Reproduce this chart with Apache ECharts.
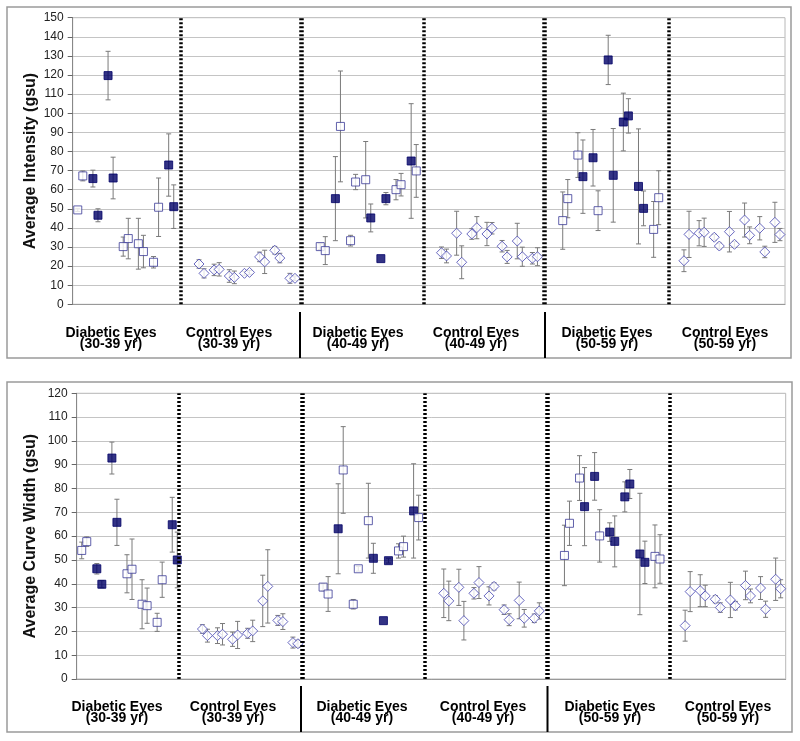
<!DOCTYPE html>
<html>
<head>
<meta charset="utf-8">
<script src="https://cdn.jsdelivr.net/npm/echarts@6/dist/echarts.min.js"></script>
<style>
html, body { margin: 0; padding: 0; background: #fff; }
#chart { width: 800px; height: 741px; }
</style>
</head>
<body>
<div id="chart"></div>
<script>
// group labels and where each group starts on the x scale (pairs of eyes, gap of one)
var groupNames = ['Diabetic Eyes\n(30-39 yr)', 'Control Eyes\n(30-39 yr)', 'Diabetic Eyes\n(40-49 yr)',
  'Control Eyes\n(40-49 yr)', 'Diabetic Eyes\n(50-59 yr)', 'Control Eyes\n(50-59 yr)'];
var groupStart = [1, 25, 49, 73, 97, 121];

// 1 = filled square, 0 = open square (diabetic groups)
var filledD30 = [0, 0, 1, 1, 1, 1, 0, 0, 0, 0, 0, 0, 1, 1];
var filledD40 = [0, 0, 1, 0, 0, 0, 0, 1, 1, 1, 0, 0, 1, 0];
var filledD50 = [0, 0, 0, 1, 1, 0, 1, 1, 1, 1, 1, 1, 0, 0];

// Average Intensity (gsu)
var intD30 = [49.4, 67.2, 65.8, 46.6, 119.7, 66.1, 30.2, 34.4, 31.7, 27.6, 22.0, 50.8, 72.9, 51.1];
var intD30Err = [0.8, 2.6, 4.4, 3.4, 12.7, 10.9, 5.0, 10.6, 13.3, 8.5, 3.0, 15.3, 16.3, 11.4];
var intC30 = [21.1, 16.2, 18.0, 18.3, 14.8, 14.1, 16.2, 16.7, 24.8, 22.2, 28.3, 24.2, 13.6, 13.6];
var intC30Err = [2.2, 2.4, 3.0, 3.5, 3.3, 3.3, 1.0, 1.0, 2.5, 6.1, 2.0, 2.5, 2.6, 1.2];
var intD40 = [30.2, 28.1, 55.3, 93.1, 33.3, 64.0, 65.2, 45.2, 23.9, 55.3, 60.0, 62.6, 75.0, 69.8];
var intD40Err = [1.5, 7.3, 22.0, 29.0, 2.8, 4.0, 20.0, 7.3, 0, 3.2, 5.3, 5.9, 30.0, 13.8];
var intC40 = [27.0, 25.3, 37.2, 22.0, 36.8, 40.1, 36.8, 39.8, 30.4, 24.8, 33.1, 24.9, 24.1, 24.9];
var intC40Err = [3.0, 3.6, 11.5, 8.6, 2.8, 5.8, 6.1, 3.0, 3.0, 3.4, 9.3, 5.0, 3.0, 4.7];
var intD50 = [43.8, 55.3, 78.1, 66.8, 76.7, 49.0, 127.9, 67.5, 95.4, 98.6, 61.7, 50.2, 39.2, 55.8];
var intD50Err = [15.0, 10.0, 11.7, 19.2, 14.8, 10.4, 12.9, 24.5, 15.1, 9.0, 30.1, 9.1, 14.6, 14.1];
var intC50 = [22.8, 36.6, 37.2, 37.7, 35.1, 30.5, 38.0, 31.4, 44.1, 36.1, 39.8, 27.4, 42.9, 36.5];
var intC50Err = [5.7, 12.1, 6.6, 7.4, 1.5, 1.5, 10.6, 1.5, 8.9, 4.4, 6.1, 3.0, 10.5, 3.2];

// Average Curve Width (gsu)
var widD30 = [54.0, 57.7, 46.3, 39.8, 92.8, 65.8, 44.2, 46.1, 31.4, 30.8, 23.8, 41.7, 64.8, 50.0];
var widD30Err = [3.5, 2.0, 2.2, 1.5, 6.7, 9.7, 8.0, 12.7, 10.3, 7.4, 3.8, 7.4, 11.5, 11.7];
var widC30 = [21.0, 18.2, 18.2, 18.8, 16.7, 18.5, 19.2, 20.2, 32.8, 38.9, 24.6, 24.1, 15.3, 14.8];
var widC30Err = [1.8, 2.7, 3.3, 4.5, 3.0, 5.7, 2.1, 4.5, 10.8, 15.4, 2.1, 3.3, 2.3, 1.5];
var widD40 = [38.6, 35.7, 63.1, 87.8, 31.4, 46.3, 66.5, 50.7, 24.5, 49.7, 53.8, 55.6, 70.6, 67.8];
var widD40Err = [1.5, 7.3, 18.9, 18.2, 2.0, 1.0, 15.7, 6.3, 0, 1.0, 3.0, 4.4, 19.8, 9.4];
var widC40 = [36.0, 32.8, 38.5, 24.5, 36.0, 40.5, 34.9, 38.9, 29.1, 24.9, 33.0, 25.5, 25.5, 28.6];
var widC40Err = [10.2, 8.3, 7.6, 8.1, 2.4, 6.7, 3.8, 1.5, 2.0, 2.5, 7.7, 3.7, 1.8, 3.4];
var widD50 = [51.9, 65.4, 84.4, 72.4, 85.1, 60.1, 61.7, 57.8, 76.5, 81.9, 52.5, 49.0, 51.5, 50.4];
var widD50Err = [12.7, 9.3, 9.4, 16.4, 10.0, 11.0, 3.9, 10.7, 6.3, 6.1, 25.5, 8.9, 13.2, 10.2];
var widC50 = [22.4, 36.7, 37.1, 34.9, 33.5, 30.0, 33.2, 30.8, 39.3, 34.9, 38.2, 29.3, 41.9, 37.9];
var widC50Err = [6.5, 8.4, 6.7, 4.5, 1.5, 2.0, 7.4, 1.8, 6.0, 2.9, 4.8, 3.4, 8.9, 3.8];

// dotted separators (x position), thick = age boundary
var sepIntensity = [21.3, 45.3, 69.5, 93.3, 118.0];
var sepWidth = [20.3, 44.9, 69.3, 93.5, 117.9];

var intGroups = [[intD30, intD30Err, filledD30], [intC30, intC30Err, null], [intD40, intD40Err, filledD40],
  [intC40, intC40Err, null], [intD50, intD50Err, filledD50], [intC50, intC50Err, null]];
var widGroups = [[widD30, widD30Err, filledD30], [widC30, widC30Err, null], [widD40, widD40Err, filledD40],
  [widC40, widC40Err, null], [widD50, widD50Err, filledD50], [widC50, widC50Err, null]];

function buildPanel(groups) {
  var res = { filled: [], open: [], diamond: [], all: [] };
  groups.forEach(function (g, gi) {
    g[0].forEach(function (v, i) {
      var x = groupStart[gi] + Math.floor(i / 2) * 3 + (i % 2);
      var p = [x, v, g[1][i]];
      res.all.push(p);
      if (!g[2]) res.diamond.push(p);
      else if (g[2][i]) res.filled.push(p);
      else res.open.push(p);
    });
  });
  return res;
}

var pInt = buildPanel(intGroups);
var pWid = buildPanel(widGroups);

function errorBars(data, gi) {
  return {
    type: 'custom',
    xAxisIndex: gi,
    yAxisIndex: gi,
    z: 2,
    silent: true,
    data: data,
    renderItem: function (params, api) {
      var e = api.value(2);
      if (!e) return null;
      var x = api.value(0), y = api.value(1);
      var hi = api.coord([x, y + e]);
      var lo = api.coord([x, y - e]);
      var w = 2.5;
      var st = { stroke: '#7a7a7a', lineWidth: 1 };
      return {
        type: 'group',
        children: [
          { type: 'line', shape: { x1: hi[0], y1: hi[1], x2: lo[0], y2: lo[1] }, style: st },
          { type: 'line', shape: { x1: hi[0] - w, y1: hi[1], x2: hi[0] + w, y2: hi[1] }, style: st },
          { type: 'line', shape: { x1: lo[0] - w, y1: lo[1], x2: lo[0] + w, y2: lo[1] }, style: st }
        ]
      };
    }
  };
}

function separators(list) {
  return {
    silent: true,
    symbol: 'none',
    label: { show: false },
    data: list.map(function (v, i) {
      var thick = (i === 1 || i === 3);
      return {
        xAxis: v,
        lineStyle: { color: '#000', type: [2, 2], width: thick ? 4.5 : 3.5 }
      };
    })
  };
}

function markers(p, gi, seps) {
  return [
    errorBars(p.all, gi),
    {
      type: 'scatter', xAxisIndex: gi, yAxisIndex: gi, z: 3,
      symbol: 'rect', symbolSize: 8,
      itemStyle: { color: '#000066', borderColor: '#000066', borderWidth: 1 },
      data: p.filled,
      markLine: separators(seps)
    },
    {
      type: 'scatter', xAxisIndex: gi, yAxisIndex: gi, z: 3,
      symbol: 'rect', symbolSize: 8,
      itemStyle: { color: '#fff', borderColor: '#3a3a96', borderWidth: 1 },
      data: p.open
    },
    {
      type: 'scatter', xAxisIndex: gi, yAxisIndex: gi, z: 3,
      symbol: 'diamond', symbolSize: 10,
      itemStyle: { color: '#fff', borderColor: '#4444b0', borderWidth: 1 },
      data: p.diamond
    }
  ];
}

function yAxisCfg(gi, name, max, gap) {
  return {
    gridIndex: gi, type: 'value', min: 0, max: max, interval: 10,
    name: name, nameLocation: 'middle', nameGap: gap, nameMoveOverlap: false,
    nameTextStyle: { fontSize: 16, fontWeight: 'bold', color: '#111', fontFamily: 'Arial, Liberation Sans' },
    axisLine: { show: true, lineStyle: { color: '#888' } },
    axisTick: { show: true, length: 5, lineStyle: { color: '#666' } },
    axisLabel: { fontSize: 12, color: '#222', margin: 9, fontFamily: 'Arial, Liberation Sans' },
    splitLine: { show: true, lineStyle: { color: '#c4c4c4', width: 1 } }
  };
}

function xAxisCfg(gi) {
  return {
    gridIndex: gi, type: 'value', min: 0, max: 141,
    axisLine: { show: true, lineStyle: { color: '#999' } },
    axisTick: { show: false }, axisLabel: { show: false }, splitLine: { show: false }
  };
}

var labelTop = [111, 229, 358, 476, 607, 725];
var labelBottom = [117, 233, 362, 483, 610, 728];

var graphics = [
  { type: 'rect', shape: { x: 7, y: 7, width: 784, height: 351 }, style: { fill: 'none', stroke: '#9a9a9a', lineWidth: 1.5 }, z: -1 },
  { type: 'rect', shape: { x: 7, y: 382, width: 785, height: 350 }, style: { fill: 'none', stroke: '#9a9a9a', lineWidth: 1.5 }, z: -1 },
  { type: 'line', shape: { x1: 300, y1: 312, x2: 300, y2: 358 }, style: { stroke: '#000', lineWidth: 2 } },
  { type: 'line', shape: { x1: 545, y1: 312, x2: 545, y2: 358 }, style: { stroke: '#000', lineWidth: 2 } },
  { type: 'line', shape: { x1: 301, y1: 686, x2: 301, y2: 732 }, style: { stroke: '#000', lineWidth: 2 } },
  { type: 'line', shape: { x1: 547.5, y1: 686, x2: 547.5, y2: 732 }, style: { stroke: '#000', lineWidth: 2 } }
];
groupNames.forEach(function (n, i) {
  [[labelTop[i], 328], [labelBottom[i], 702]].forEach(function (pos) {
    graphics.push({
      type: 'text', x: pos[0], y: pos[1],
      style: {
        text: n, fill: '#000', align: 'center', verticalAlign: 'top',
        fontSize: 14, fontWeight: 'bold', fontFamily: 'Arial, Liberation Sans', lineHeight: 11
      }
    });
  });
});

var chart = echarts.init(document.getElementById('chart'));
chart.setOption({
  animation: false,
  backgroundColor: '#fff',
  grid: [
    { left: 72.7, top: 17.7, width: 712.3, height: 286.6, show: true, borderColor: '#b8b8b8', borderWidth: 1 },
    { left: 76.7, top: 393.3, width: 709, height: 285.7, show: true, borderColor: '#b8b8b8', borderWidth: 1 }
  ],
  xAxis: [xAxisCfg(0), xAxisCfg(1)],
  yAxis: [
    yAxisCfg(0, 'Average Intensity (gsu)', 150, 34.5),
    yAxisCfg(1, 'Average Curve Width (gsu)', 120, 38.5)
  ],
  graphic: graphics,
  series: markers(pInt, 0, sepIntensity).concat(markers(pWid, 1, sepWidth))
});
</script>
</body>
</html>
